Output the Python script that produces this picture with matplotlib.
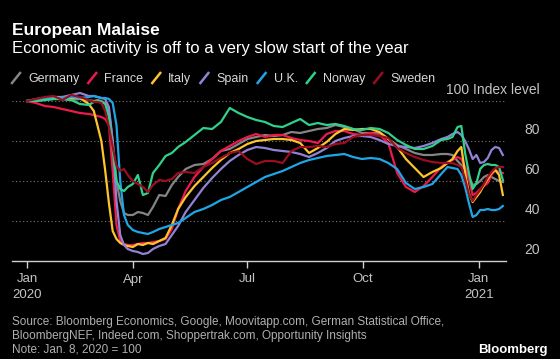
import numpy as np
import pandas as pd
import matplotlib
matplotlib.use("Agg")
import matplotlib.pyplot as plt
from matplotlib.lines import Line2D
from matplotlib.transforms import blended_transform_factory

plt.rcParams['font.family'] = ['Liberation Sans', 'DejaVu Sans']

### Data ###
start = pd.Timestamp("2020-01-08")

# days since Jan. 8, 2020
day_offsets = [0, 7, 14, 21, 28, 35, 42, 49,
               53, 56, 59, 62, 65, 68, 71, 74, 77, 80,
               84, 88, 92, 96, 100,
               105, 110, 115, 120,
               126, 133, 140, 147, 154, 161, 168, 175, 182, 189, 196, 203, 210, 217, 224,
               231, 238, 245, 252, 259, 266, 273, 280, 287, 294, 301, 308, 315, 322, 329,
               334, 338, 342,
               345, 348, 351, 354, 357, 360, 363, 366, 369, 372, 375, 378]

germany = [100, 100, 100.5, 101, 101, 100.5, 101, 100.5,
           100, 100.5, 100, 99, 95, 80, 60, 50, 44, 43,
           43, 44.5, 44, 43, 47,
           53, 52.5, 58, 62,
           66, 68, 68.5, 71, 75, 76, 78.5, 81, 82, 83, 82.5, 83, 84.5, 84, 85,
           86, 86.5, 88, 87, 86, 84, 84, 84, 81, 78, 76, 74, 73, 73, 73.5,
           73.5, 73, 70,
           68, 66, 62, 58, 58.5, 60, 62, 63, 62, 61, 60, 59.5]

france = [100, 99, 97.5, 97, 96, 95, 94, 93.5,
          93, 92.5, 92, 91, 88, 65, 38, 30, 28.5, 28,
          28, 28.5, 29, 29, 29.5,
          30, 31, 36, 46,
          55, 62, 67, 71, 75, 77.5, 80, 82, 83.5, 82, 83, 83, 81.5, 80.5, 80,
          79, 83.5, 85, 85, 83.5, 83, 84, 83, 79, 64, 57, 54.5, 57.5, 62, 67,
          69.5, 70.5, 72,
          71, 67, 61, 53, 54, 56, 57.5, 59, 63, 65.5, 64.5, 64]

italy = [100, 100.5, 101.5, 102, 102, 101.5, 101.5, 98.5,
         95, 87.5, 80, 65.5, 49, 35, 31, 29, 28, 27.5,
         27, 28.5, 28, 29, 28.5,
         30, 31.5, 38, 46,
         52, 57.5, 62, 66.5, 70.5, 74, 76, 78.5, 80, 80.5, 81, 81, 80.5, 79, 74,
         76.5, 79.5, 83.5, 86, 85.5, 86, 86, 84.5, 81, 77, 71, 66.5, 62, 64.5, 66.5,
         69, 71, 75,
         77, 64, 54, 49.5, 52, 54.5, 58, 61, 64, 65.5, 63, 53]

spain = [100, 101, 101.5, 101.5, 102, 103, 104, 102.5,
         102.5, 102, 101.5, 101, 97, 80, 50, 33, 28, 26,
         25, 24.5, 23.5, 24, 26,
         27.5, 28.5, 33, 37.5,
         44.5, 50.5, 56.5, 61.5, 66, 70, 73, 75.5, 77, 76.5, 75.5, 75, 74.5, 73.5, 72,
         74, 76.5, 80, 81.5, 82.5, 82.5, 82, 80.5, 78.5, 77.5, 77, 76.5, 77.5, 79, 81,
         82, 83.5, 84.5,
         83, 80, 76, 71, 73, 69, 69.5, 71.5, 75.5, 77, 76.5, 73]

uk = [100, 100.5, 101, 101, 101.5, 102, 101.5, 102,
      102.5, 102, 101.5, 101.5, 101, 99, 88, 60, 43, 38,
      35.5, 34.5, 34, 33.5, 34.5,
      36, 37, 38, 39,
      41.5, 44.5, 46, 48, 50.5, 52, 54.5, 57, 59.5, 62, 63.5, 65, 67, 69, 70.5,
      71.5, 72.5, 73, 73.5, 72, 71, 71.5, 71, 69, 66, 59, 56, 57, 58.5, 63.5,
      67, 66.5, 66,
      63, 57, 49, 42, 43, 45.5, 45.5, 46, 45.5, 45.5, 46, 47.5]

norway = [100, 100, 100.5, 101, 101, 100.5, 98.5, 98,
          99.5, 100, 99.5, 98.5, 92, 76, 60, 56, 55, 57,
          58.5, 63, 53, 54, 64,
          68, 72.5, 74, 77,
          79.5, 83, 86.5, 86, 89.5, 96.5, 94, 92, 90.5, 89.5, 87.5, 87, 89, 91, 88,
          89, 88, 88.5, 87.5, 86, 85.5, 86.5, 86, 84, 80.5, 78, 76, 76, 77.5, 80.5,
          81, 82, 87,
          87.5, 74, 64, 56, 59, 66, 68, 68.5, 68, 68, 67, 60.5]

sweden = [100, 101, 102, 102.5, 100.5, 103, 102, 100.5,
          99.5, 99.5, 99, 95, 87, 77, 67.5, 65, 66, 63,
          60, 58.5, 57, 54.5, 58,
          60.5, 60, 61, 64,
          64.5, 64, 67, 69, 71.5, 74, 75, 71, 68.5, 70, 70, 69, 75, 77, 77,
          77.5, 77, 78.5, 79, 82, 83, 83, 82.5, 81.5, 76.5, 74, 72, 70.5, 69.5, 69,
          69, 69, 68,
          67, 61, 53.5, 50, 53, 55.5, 58.5, 62, 64.5, 66.5, 67, 67]

countries = ["Germany", "France", "Italy", "Spain", "U.K.", "Norway", "Sweden"]
series = [germany, france, italy, spain, uk, norway, sweden]
colors = ["#858585", "#ec1b4b", "#fdc52b", "#9283d6", "#1fa6e6", "#2fd18c", "#9a0f1f"]

y_levels = [20, 40, 60, 80, 100]
tick_dates = [start, pd.Timestamp("2020-04-01"), pd.Timestamp("2020-07-01"),
              pd.Timestamp("2020-10-01"), pd.Timestamp("2021-01-01")]
tick_labels = ["Jan\n2020", "Apr", "Jul", "Oct", "Jan\n2021"]

dates = start + pd.to_timedelta(day_offsets, unit="D")

### Plot ###
W, H = 560, 359
fig = plt.figure(figsize=(W / 100, H / 100), dpi=100, facecolor="black")
ax = fig.add_axes([12 / W, 1 - 261 / H, 494 / W, 172 / H])
ax.set_facecolor("black")

for vals, col in zip(series, colors):
    ax.plot(dates, vals, color=col, lw=1.6, solid_joinstyle="round", zorder=3)

ax.set_ylim(20, 106)
ax.set_xlim(start - pd.Timedelta(days=12), start + pd.Timedelta(days=380.5))

for v in y_levels[1:]:
    ax.axhline(v, color="#7a7a7a", lw=0.8, ls=(0, (1, 2.2)), zorder=1)

for s in ["top", "right", "left"]:
    ax.spines[s].set_visible(False)
ax.spines["bottom"].set_color("#d0d0d0")
ax.spines["bottom"].set_linewidth(1)

ax.set_yticks([])
ax.set_xticks(tick_dates)
ax.set_xticklabels(tick_labels, linespacing=1.35)
ax.tick_params(axis="x", colors="#d0d0d0", labelcolor="#c4c4c4",
               length=5, width=1, labelsize=9.5, pad=4)

trans = blended_transform_factory(ax.transAxes, ax.transData)
for v in y_levels:
    label = "100 Index level" if v == 100 else str(v)
    ax.text(1.069, v + 5.5, label, transform=trans, ha="right", va="center",
            color="#c4c4c4", fontsize=10)

# titles
fig.text(12 / W, 1 - 35 / H, "European Malaise", color="white", fontsize=12.5,
         fontweight="bold", va="baseline")
fig.text(12 / W, 1 - 53 / H, "Economic activity is off to a very slow start of the year",
         color="white", fontsize=12, va="baseline")

# legend row
fig.canvas.draw()
renderer = fig.canvas.get_renderer()
x = 12
y_base = 82
for name, col in zip(countries, colors):
    fig.add_artist(Line2D([x / W, (x + 8) / W], [1 - (y_base + 1) / H, 1 - (y_base - 9) / H],
                          color=col, lw=1.8, transform=fig.transFigure))
    t = fig.text((x + 16) / W, 1 - y_base / H, name, color="#d8d8d8",
                 fontsize=9, va="baseline")
    x = t.get_window_extent(renderer).x1 + 9

# footer
foot = "#b0b0b0"
fig.text(12 / W, 1 - 325 / H, "Source: Bloomberg Economics, Google, Moovitapp.com, German Statistical Office,",
         color=foot, fontsize=8.5, va="baseline")
fig.text(12 / W, 1 - 339 / H, "BloombergNEF, Indeed.com, Shoppertrak.com, Opportunity Insights",
         color=foot, fontsize=8.5, va="baseline")
fig.text(12 / W, 1 - 352 / H, "Note: Jan. 8, 2020 = 100",
         color=foot, fontsize=8.5, va="baseline")
fig.text(548 / W, 1 - 353 / H, "Bloomberg", color="white", fontsize=9.5,
         fontweight="bold", ha="right", va="baseline")

fig.savefig("out.png", dpi=100, facecolor="black")
